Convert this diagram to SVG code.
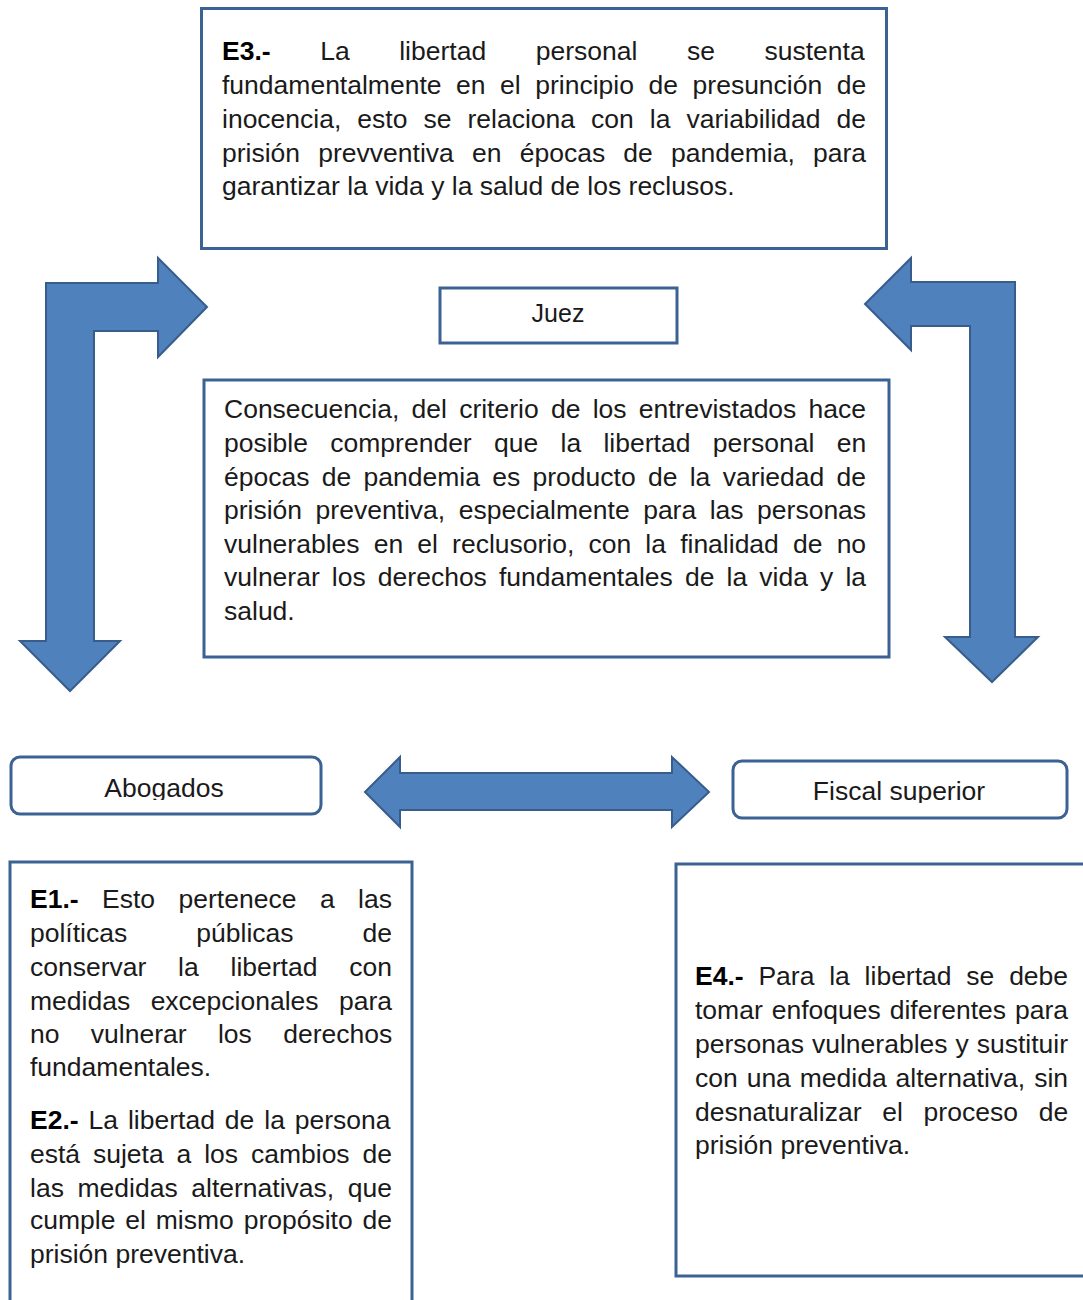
<svg xmlns="http://www.w3.org/2000/svg" width="1083" height="1300" viewBox="0 0 1083 1300">
<style>
.box{fill:#fff;stroke:#3c6293;stroke-width:3}
.arr{fill:#4f81bd;stroke:#385d8a;stroke-width:2;stroke-linejoin:miter}
text{font-family:"Liberation Sans",Arial,sans-serif;font-size:26.5px;fill:#1a1a1a}
.b{font-weight:bold;fill:#000}
.lbl{text-anchor:middle}
</style>
<defs>
<clipPath id="cA"><rect x="11" y="757" width="310" height="43"/></clipPath>
<clipPath id="cF"><rect x="733" y="761" width="334" height="42"/></clipPath>
</defs>
<g id="connectors">
<path class="arr" d="M46,283 L158,283 L158,258 L207,307 L158,357 L158,331 L94,331 L94,641 L120,641 L70,691 L20,641 L46,641 Z"/>
<path class="arr" d="M1015,282 L911,282 L911,258 L865,304 L911,350 L911,326 L970,326 L970,637 L945,637 L992,682 L1038,637 L1015,637 Z"/>
<path class="arr" d="M365,792 L400,757 L400,773 L672,773 L672,757 L709,792 L672,827 L672,810 L400,810 L400,827 Z"/>
</g>
<g id="e3">
<rect class="box" x="201.5" y="8.5" width="685" height="240"/>
<text x="222" y="60" word-spacing="42.2"><tspan class="b">E3.-</tspan> La libertad personal se sustenta</text>
<text x="222" y="94" word-spacing="7.2">fundamentalmente en el principio de presunción de</text>
<text x="222" y="128" word-spacing="8.67">inocencia, esto se relaciona con la variabilidad de</text>
<text x="222" y="162" word-spacing="10.85">prisión prevventiva en épocas de pandemia, para</text>
<text x="222" y="195">garantizar la vida y la salud de los reclusos.</text>
</g>
<g id="juez">
<rect class="box" x="440" y="288" width="237" height="55"/>
<text class="lbl" x="558" y="322" style="font-size:25px">Juez</text>
</g>
<g id="consecuencia">
<rect class="box" x="204" y="380" width="685" height="277"/>
<text x="224" y="418" word-spacing="4.88">Consecuencia, del criterio de los entrevistados hace</text>
<text x="224" y="452" word-spacing="14.95">posible comprender que la libertad personal en</text>
<text x="224" y="486" word-spacing="4.94">épocas de pandemia es producto de la variedad de</text>
<text x="224" y="519" word-spacing="6.16">prisión preventiva, especialmente para las personas</text>
<text x="224" y="553" word-spacing="6.79">vulnerables en el reclusorio, con la finalidad de no</text>
<text x="224" y="586" word-spacing="4.76">vulnerar los derechos fundamentales de la vida y la</text>
<text x="224" y="620">salud.</text>
</g>
<g id="abogados">
<rect class="box" x="11" y="757" width="310" height="57" rx="9"/>
<text class="lbl" x="164" y="797" clip-path="url(#cA)">Abogados</text>
</g>
<g id="fiscal">
<rect class="box" x="733" y="761" width="334" height="57" rx="9"/>
<text class="lbl" x="899" y="800" clip-path="url(#cF)">Fiscal superior</text>
</g>
<g id="e1e2">
<rect class="box" x="10" y="862" width="402" height="470"/>
<text x="30" y="908" word-spacing="16.1"><tspan class="b">E1.-</tspan> Esto pertenece a las</text>
<text x="30" y="942" word-spacing="61.7">políticas públicas de</text>
<text x="30" y="976" word-spacing="24.4">conservar la libertad con</text>
<text x="30" y="1010" word-spacing="13.1">medidas excepcionales para</text>
<text x="30" y="1043" word-spacing="24.0">no vulnerar los derechos</text>
<text x="30" y="1076">fundamentales.</text>
<text x="30" y="1129" word-spacing="2.58"><tspan class="b">E2.-</tspan> La libertad de la persona</text>
<text x="30" y="1163" word-spacing="5.52">está sujeta a los cambios de</text>
<text x="30" y="1197" word-spacing="6.27">las medidas alternativas, que</text>
<text x="30" y="1229" word-spacing="2.5">cumple el mismo propósito de</text>
<text x="30" y="1263">prisión preventiva.</text>
</g>
<g id="e4">
<rect class="box" x="676" y="864" width="430" height="412"/>
<text x="695" y="985" word-spacing="7.44"><tspan class="b">E4.-</tspan> Para la libertad se debe</text>
<text x="695" y="1019" word-spacing="1.6">tomar enfoques diferentes para</text>
<text x="695" y="1053" word-spacing="0.6">personas vulnerables y sustituir</text>
<text x="695" y="1087" word-spacing="1.55">con una medida alternativa, sin</text>
<text x="695" y="1121" word-spacing="13.4">desnaturalizar el proceso de</text>
<text x="695" y="1154">prisión preventiva.</text>
</g>
</svg>
